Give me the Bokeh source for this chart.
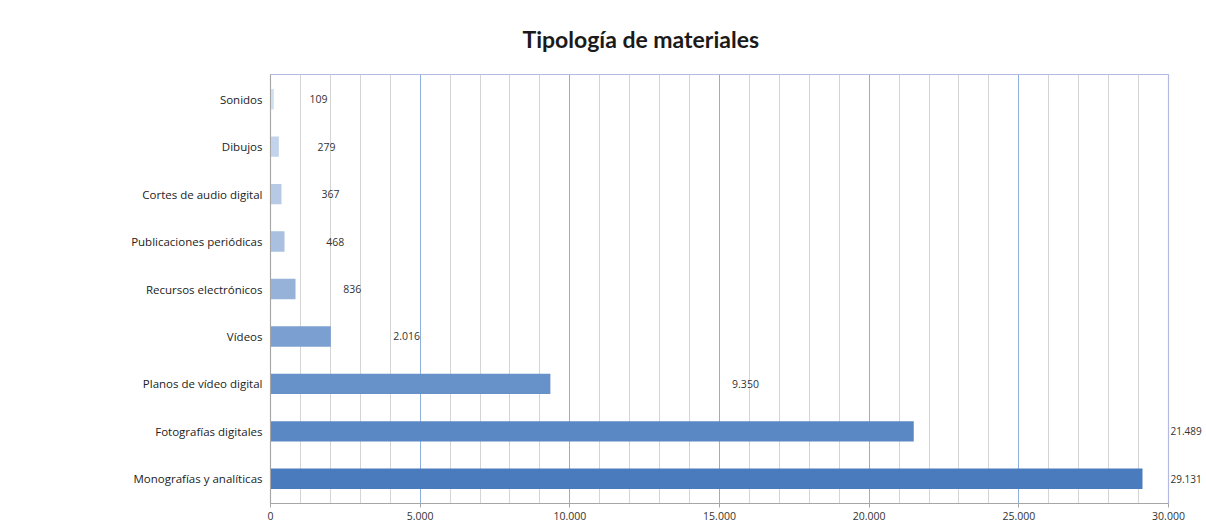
from bokeh.plotting import figure
from bokeh.models import (Range1d, SingleIntervalTicker, CustomJSTickFormatter,
                          ColumnDataSource, LabelSet, LinearAxis, FixedTicker)
from bokeh.core.properties import value
from bokeh.embed import file_html
from bokeh.resources import INLINE

# data (top to bottom as shown)
categories = ["Sonidos", "Dibujos", "Cortes de audio digital", "Publicaciones periódicas",
              "Recursos electrónicos", "Vídeos", "Planos de vídeo digital",
              "Fotografías digitales", "Monografías y analíticas"]
values = [109, 279, 367, 468, 836, 2016, 9350, 21489, 29131]
colors = ["#cfdef1", "#c2d3eb", "#b6cae6", "#a9c0e1", "#96b2d9", "#7b9fd0",
          "#6791c9", "#5a88c4", "#4a7bbd"]
x_ticks_max = 30000

def fmt(v):
    return f"{v:,}".replace(",", ".")

FONT = "Open Sans"
n = len(categories)
ypos = [n - 1 - i for i in range(n)]          # row index, bottom = 0
inside = [i for i, v in enumerate(values) if 1437 + 1.5435 * v < x_ticks_max]

p = figure(width=1206, height=528, output_backend="svg", toolbar_location=None,
           y_range=Range1d(-0.52, n - 1 + 0.52), x_range=Range1d(0, x_ticks_max),
           min_border_left=270, min_border_right=38, min_border_top=72, min_border_bottom=25)
p.background_fill_color = "white"
p.border_fill_color = "white"
p.outline_line_color = "#b4b9e4"
p.outline_line_width = 1.2

p.title.text = "Tipología de materiales"
p.title.align = "left"
p.title.offset = 252
p.title.standoff = 44
p.title.text_font = "Lato"
p.title.text_font_size = "23px"
p.title.text_font_style = "bold"
p.title.text_color = "#1a1a1a"

src = ColumnDataSource(dict(y=ypos, val=values, col=colors))
p.hbar(y="y", right="val", left=0, height=0.43, fill_color="col",
       line_color=None, source=src)

# value labels inside the plot area
src_in = ColumnDataSource(dict(x=[1437 + 1.5435 * values[i] for i in inside],
                               y=[ypos[i] for i in inside],
                               t=[fmt(values[i]) for i in inside]))
p.add_layout(LabelSet(x="x", y="y", text="t", source=src_in, text_align="center",
                      text_baseline="middle", text_font=value(FONT), text_font_size="10.5px",
                      text_color="#333333"))

# left axis: category names
left_names = [categories[n - 1 - k] for k in range(n)]   # indexed by row position
yax = p.yaxis[0]
yax.ticker = FixedTicker(ticks=ypos)
yax.formatter = CustomJSTickFormatter(args=dict(labels=left_names),
                                      code="return labels[Math.round(tick)] || '';")
yax.major_label_text_font = FONT
yax.major_label_text_font_size = "11.5px"
yax.major_label_text_color = "#222222"
yax.axis_line_color = "#a6a6a6"
yax.major_tick_line_color = None
yax.major_tick_out = 0
yax.major_tick_in = 0
yax.minor_tick_line_color = None
yax.minor_tick_out = 0
yax.minor_tick_in = 0
yax.major_label_standoff = 8

# right axis: value labels of bars whose label falls beyond the plot edge
right_names = []
for k in range(n):
    i = n - 1 - k
    right_names.append("" if i in inside else fmt(values[i]))
outside_pos = [ypos[i] for i in range(n) if i not in inside]
rax = LinearAxis(ticker=FixedTicker(ticks=outside_pos),
                 formatter=CustomJSTickFormatter(args=dict(labels=right_names),
                                                 code="return labels[Math.round(tick)] || '';"))
rax.axis_line_color = None
rax.major_tick_line_color = None
rax.major_tick_out = 0
rax.major_tick_in = 0
rax.minor_tick_line_color = None
rax.minor_tick_out = 0
rax.minor_tick_in = 0
rax.major_label_standoff = 2
rax.major_label_text_font = FONT
rax.major_label_text_font_size = "10px"
rax.major_label_text_color = "#333333"
p.add_layout(rax, "right")

# x axis
xax = p.xaxis[0]
xax.ticker = SingleIntervalTicker(interval=5000, num_minor_ticks=5)
xax.formatter = CustomJSTickFormatter(code="return tick.toLocaleString('de-DE');")
xax.major_label_text_font = FONT
xax.major_label_text_font_size = "10.5px"
xax.major_label_text_color = "#333333"
xax.axis_line_color = "#a6a6a6"
xax.major_tick_line_color = "#a6a6a6"
xax.major_tick_out = 4
xax.major_tick_in = 0
xax.minor_tick_out = 0
xax.minor_tick_in = 0
xax.major_label_standoff = 4

p.xgrid.grid_line_color = "#8eb0dc"
p.xgrid.grid_line_width = 1
p.xgrid.minor_grid_line_color = "#d4d4d4"
p.xgrid.minor_grid_line_width = 1
p.ygrid.grid_line_color = None

open("out.html", "w").write(file_html(p, INLINE))
